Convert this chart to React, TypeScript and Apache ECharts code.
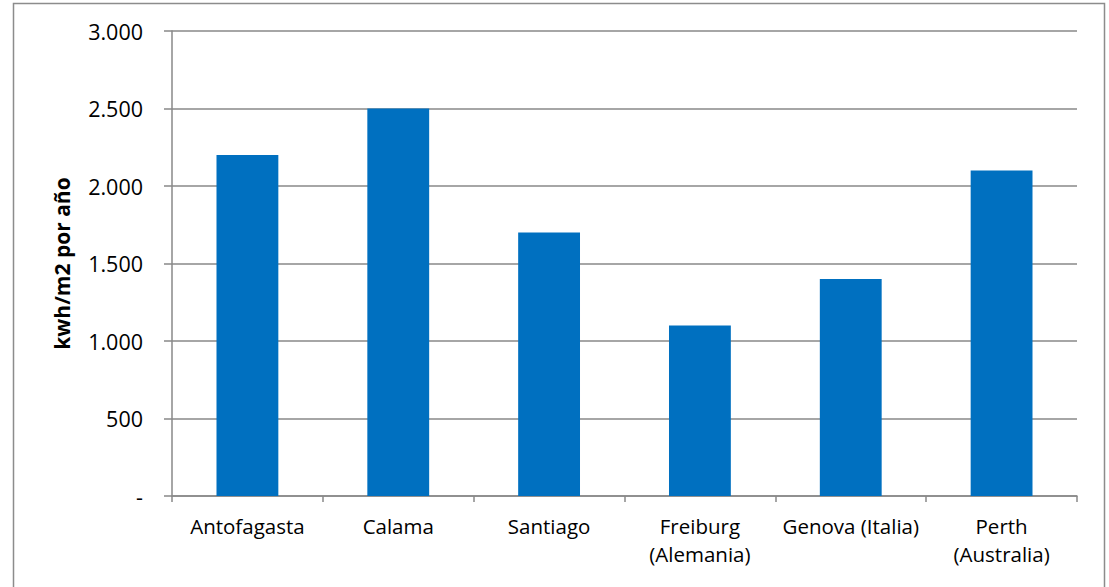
import React, { useEffect, useRef } from "react";
import * as echarts from "echarts";

const categories = ["Antofagasta", "Calama", "Santiago", "Freiburg\n(Alemania)", "Genova (Italia)", "Perth\n(Australia)"];
const values = [2200, 2500, 1700, 1100, 1400, 2100];
const yAxisName = "kwh/m2 por año";

const fmt = (v: number) => (v === 0 ? "-" : String(v).replace(/\B(?=(\d{3})+(?!\d))/g, "."));

export default function App() {
  const ref = useRef<HTMLDivElement>(null);
  useEffect(() => {
    const chart = echarts.init(ref.current!, null, { renderer: "svg" });
    const font = "Open Sans";
    chart.setOption({
      animation: false,
      textStyle: { fontFamily: font },
      graphic: [
        {
          type: "rect",
          shape: { x: 13.5, y: 3.5, width: 1091, height: 620 },
          style: { fill: "none", stroke: "#8c8c8c", lineWidth: 1.5 },
          silent: true,
        },
      ],
      grid: { left: 172, top: 31, right: 1109 - 1077, bottom: 587 - 496, containLabel: false },
      xAxis: {
        type: "category",
        data: categories,
        axisLine: { lineStyle: { color: "#898989", width: 1.5 } },
        axisTick: { show: true, length: 6, lineStyle: { color: "#898989", width: 1.5 } },
        axisLabel: { color: "#000", fontSize: 20.5, fontFamily: font, margin: 16, lineHeight: 28, interval: 0 },
      },
      yAxis: {
        type: "value",
        min: 0,
        max: 3000,
        interval: 500,
        name: yAxisName,
        nameLocation: "middle",
        nameGap: 100,
        nameTextStyle: { color: "#000", fontSize: 21, fontWeight: "bold", fontFamily: font },
        axisLine: { show: true, lineStyle: { color: "#898989", width: 1.5 } },
        axisTick: { show: true, length: 8, lineStyle: { color: "#898989", width: 1.5 } },
        splitLine: { lineStyle: { color: "#898989", width: 1.5 } },
        axisLabel: { color: "#000", fontSize: 21.5, fontFamily: font, margin: 29, formatter: fmt },
      },
      series: [
        {
          type: "bar",
          data: values,
          barCategoryGap: "59%",
          itemStyle: { color: "#0070C0" },
        },
      ],
    });
    return () => chart.dispose();
  }, []);
  return <div ref={ref} style={{ position: "absolute", left: 0, top: 0, width: 1109, height: 587 }} />;
}
